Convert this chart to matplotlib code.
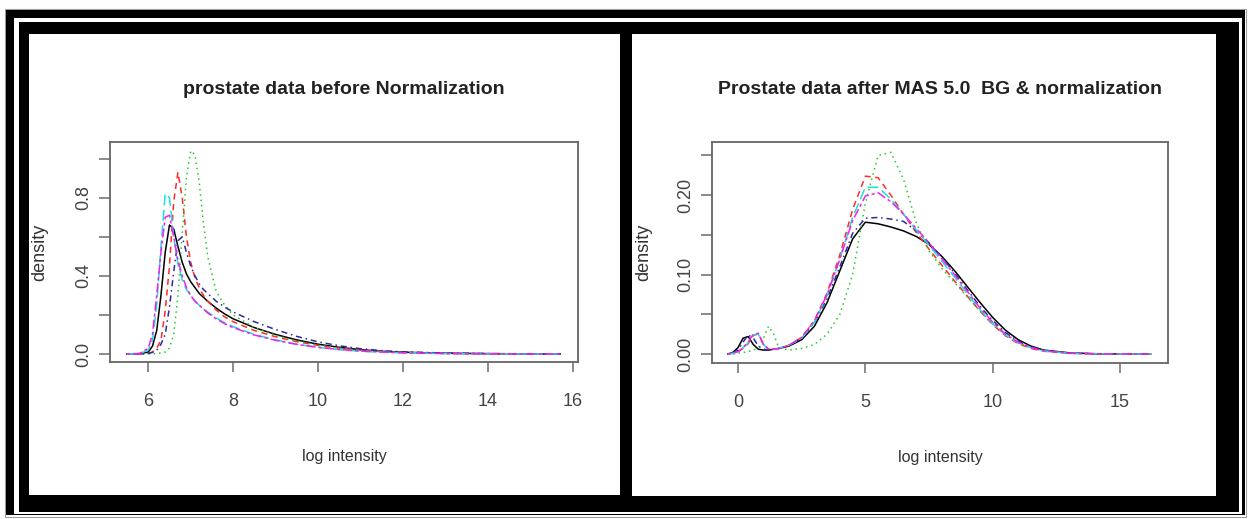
import matplotlib
matplotlib.use("Agg")
import matplotlib.pyplot as plt
from matplotlib.patches import Rectangle

sans = ['Liberation Sans', 'DejaVu Sans']

# ---- left panel: before normalization ----
left_title = "prostate data before Normalization"
x_left = [5.5, 5.8, 6.0, 6.1, 6.2, 6.3, 6.4, 6.5, 6.6, 6.7, 6.8, 6.9, 7.0, 7.1, 7.2, 7.3,
          7.4, 7.6, 7.8, 8.0, 8.5, 9.0, 9.5, 10.0, 10.5, 11.0, 11.5, 12.0, 13.0, 14.0, 15.0, 15.7]
black_l = [0, 0.001, 0.01, 0.04, 0.12, 0.3, 0.52, 0.66, 0.64, 0.55, 0.47, 0.41, 0.37, 0.34, 0.31, 0.29,
           0.27, 0.235, 0.205, 0.18, 0.135, 0.1, 0.072, 0.05, 0.034, 0.022, 0.014, 0.009, 0.004, 0.002, 0.0005, 0]
red_l = [0, 0, 0.003, 0.01, 0.03, 0.07, 0.22, 0.45, 0.78, 0.93, 0.8, 0.6, 0.47, 0.39, 0.34, 0.3,
         0.27, 0.225, 0.19, 0.165, 0.12, 0.088, 0.063, 0.044, 0.03, 0.02, 0.012, 0.008, 0.003, 0.001, 0.0003, 0]
green_l = [0, 0, 0, 0.001, 0.002, 0.005, 0.01, 0.03, 0.1, 0.3, 0.62, 0.9, 1.04, 1.02, 0.88, 0.67,
           0.5, 0.32, 0.25, 0.2, 0.135, 0.095, 0.066, 0.045, 0.03, 0.019, 0.012, 0.007, 0.003, 0.001, 0.0002, 0]
blue_l = [0, 0, 0.003, 0.008, 0.02, 0.05, 0.1, 0.24, 0.42, 0.58, 0.6, 0.52, 0.45, 0.4, 0.36, 0.33,
          0.31, 0.27, 0.24, 0.215, 0.165, 0.125, 0.09, 0.062, 0.042, 0.027, 0.017, 0.011, 0.005, 0.002, 0.0005, 0]
cyan_l = [0, 0.002, 0.02, 0.07, 0.25, 0.55, 0.82, 0.8, 0.6, 0.46, 0.38, 0.33, 0.3, 0.27, 0.25, 0.23,
          0.215, 0.185, 0.16, 0.14, 0.1, 0.072, 0.05, 0.034, 0.022, 0.014, 0.009, 0.006, 0.002, 0.001, 0.0003, 0]
magenta_l = [0, 0.003, 0.03, 0.1, 0.3, 0.52, 0.7, 0.71, 0.6, 0.48, 0.4, 0.34, 0.3, 0.27, 0.25, 0.23,
             0.21, 0.18, 0.155, 0.135, 0.097, 0.07, 0.049, 0.034, 0.023, 0.015, 0.01, 0.006, 0.002, 0.001, 0.0002, 0]
left_xticks = [6, 8, 10, 12, 14, 16]
left_yticks = [0.0, 0.2, 0.4, 0.6, 0.8, 1.0]
left_ylabels = ["0.0", "", "0.4", "", "0.8", ""]

# ---- right panel: after MAS 5.0 ----
right_title = "Prostate data after MAS 5.0  BG & normalization"
x_right = [-0.4, -0.2, 0.0, 0.2, 0.4, 0.6, 0.8, 1.0, 1.2, 1.4, 1.6, 2.0, 2.5, 3.0, 3.5, 4.0, 4.5, 5.0,
           5.5, 6.0, 6.5, 7.0, 7.5, 8.0, 8.5, 9.0, 9.5, 10.0, 10.5, 11.0, 11.5, 12.0, 13.0, 14.0, 15.0, 16.2]
black_r = [0, 0.002, 0.008, 0.02, 0.022, 0.012, 0.006, 0.005, 0.005, 0.006, 0.007, 0.01, 0.018, 0.035, 0.065, 0.105, 0.145, 0.166,
           0.164, 0.16, 0.155, 0.148, 0.138, 0.123, 0.105, 0.085, 0.065, 0.046, 0.03, 0.018, 0.01, 0.005, 0.0015, 0.0004, 0.0001, 0]
red_r = [0, 0.001, 0.003, 0.007, 0.013, 0.023, 0.026, 0.012, 0.006, 0.006, 0.007, 0.011, 0.021, 0.042, 0.077, 0.125, 0.182, 0.224,
         0.222, 0.2, 0.176, 0.153, 0.132, 0.112, 0.092, 0.073, 0.054, 0.037, 0.023, 0.013, 0.007, 0.0035, 0.001, 0.0003, 0.0001, 0]
green_r = [0, 0, 0.001, 0.002, 0.003, 0.005, 0.008, 0.02, 0.035, 0.025, 0.008, 0.005, 0.007, 0.012, 0.025, 0.05, 0.1, 0.19,
           0.25, 0.254, 0.22, 0.165, 0.13, 0.108, 0.09, 0.072, 0.054, 0.038, 0.024, 0.014, 0.008, 0.004, 0.001, 0.0003, 0.0001, 0]
blue_r = [0, 0.001, 0.005, 0.015, 0.024, 0.02, 0.01, 0.006, 0.005, 0.006, 0.007, 0.011, 0.02, 0.04, 0.07, 0.11, 0.152, 0.171,
          0.172, 0.17, 0.167, 0.155, 0.14, 0.122, 0.102, 0.081, 0.06, 0.042, 0.027, 0.016, 0.009, 0.0045, 0.0012, 0.0003, 0.0001, 0]
cyan_r = [0, 0.001, 0.003, 0.008, 0.014, 0.024, 0.025, 0.012, 0.006, 0.006, 0.007, 0.011, 0.02, 0.04, 0.074, 0.12, 0.172, 0.21,
          0.21, 0.195, 0.176, 0.156, 0.137, 0.117, 0.097, 0.076, 0.056, 0.038, 0.024, 0.014, 0.008, 0.004, 0.001, 0.0004, 0.0002, 0]
magenta_r = [0, 0.001, 0.003, 0.008, 0.015, 0.025, 0.026, 0.012, 0.006, 0.006, 0.007, 0.011, 0.021, 0.042, 0.075, 0.12, 0.168, 0.199,
             0.203, 0.192, 0.176, 0.158, 0.14, 0.12, 0.1, 0.079, 0.058, 0.04, 0.025, 0.015, 0.008, 0.004, 0.001, 0.0003, 0.0001, 0]
right_xticks = [0, 5, 10, 15]
right_yticks = [0.0, 0.05, 0.10, 0.15, 0.20, 0.25]
right_ylabels = ["0.00", "", "0.10", "", "0.20", ""]

# R style colour / lty pairs
styles = [('black', '-'), ('#ff2a2a', (0, (4, 3))), ('#22cc22', (0, (1, 2.5))),
          ('#2a2aa0', (0, (1, 2.5, 4, 2.5))), ('#22dddd', (0, (7, 3))), ('#ee22ee', (0, (2, 2, 6, 2)))]

W, H = 1249, 519
fig = plt.figure(figsize=(W / 100, H / 100), dpi=100)

# screenshot frame
bg = fig.add_axes([0, 0, 1, 1], zorder=-5)
bg.set_xlim(0, W)
bg.set_ylim(H, 0)
bg.axis('off')
bg.add_patch(Rectangle((5, 9), 1241, 508, fc='none', ec='#a0a0a0', lw=0.8))
bg.add_patch(Rectangle((6, 10), 1239, 505, fc='black', ec='none'))
bg.add_patch(Rectangle((14, 18), 1228, 496, fc='white', ec='none'))
bg.add_patch(Rectangle((19, 22), 1220, 490, fc='black', ec='none'))
bg.add_patch(Rectangle((29, 34), 591, 461, fc='white', ec='none'))
bg.add_patch(Rectangle((632, 34), 584, 462, fc='white', ec='none'))


def panel(box, ylab_x, xs, series, xlim, ylim, xticks, yticks, ylabels, title):
    l, t, r, b = box
    ax = fig.add_axes([l / W, 1 - b / H, (r - l) / W, (b - t) / H])
    for ys, (c, ls) in zip(series, styles):
        ax.plot(xs, ys, color=c, linestyle=ls, lw=1.1)
    ax.set_xlim(*xlim)
    ax.set_ylim(*ylim)
    ax.set_xticks(xticks)
    ax.set_xticklabels([str(v) for v in xticks], family=sans, fontsize=13, color='#444444')
    ax.set_yticks(yticks)
    ax.set_yticklabels(ylabels, family=sans, fontsize=13, color='#444444',
                       rotation=90, va='center')
    ax.tick_params(axis='x', length=7, width=1.2, color='#777777', pad=15)
    ax.tick_params(axis='y', length=8, width=1.2, color='#777777', pad=5)
    for s in ax.spines.values():
        s.set_color('#666666')
        s.set_linewidth(1.3)
    ax.set_xlabel("log intensity", family=sans, fontsize=11.5, color='#333333', va='center')
    ax.xaxis.set_label_coords(0.5, -(457 - b) / (b - t))
    ax.set_ylabel("density", family=sans, fontsize=13, color='#333333', va='center')
    ax.yaxis.set_label_coords(-(l - ylab_x) / (r - l), 0.5)
    ax.text(0.5, (b - 90) / (b - t), title, transform=ax.transAxes, ha='center', va='center',
            family=sans, fontweight='bold', fontsize=14, color='#222222')
    return ax


panel((110, 142, 578, 362), 40, x_left, [black_l, red_l, green_l, blue_l, cyan_l, magenta_l],
      (5.1, 16.12), (-0.041, 1.085), left_xticks, left_yticks, left_ylabels, left_title)
panel((712, 142, 1168, 363), 644, x_right, [black_r, red_r, green_r, blue_r, cyan_r, magenta_r],
      (-1.02, 16.88), (-0.0113, 0.267), right_xticks, right_yticks, right_ylabels, right_title)

fig.savefig("out.png", dpi=100)
